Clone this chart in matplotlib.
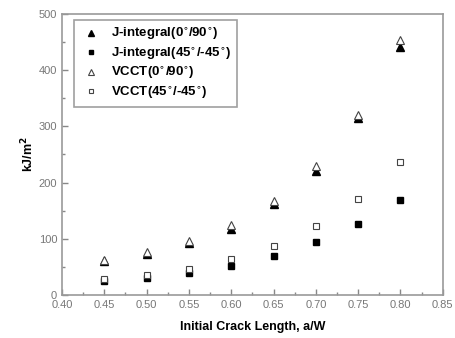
import matplotlib
matplotlib.use("Agg")
import matplotlib.pyplot as plt
from matplotlib.ticker import MultipleLocator

plt.rcParams['font.family'] = ['Liberation Sans', 'DejaVu Sans']

crack = [0.45, 0.50, 0.55, 0.60, 0.65, 0.70, 0.75, 0.80]
j_0_90 = [60, 73, 93, 118, 162, 220, 314, 441]
j_45 = [25, 31, 40, 52, 70, 95, 126, 169]
vcct_0_90 = [63, 77, 97, 124, 167, 229, 320, 453]
vcct_45 = [28, 36, 47, 65, 88, 122, 171, 237]

xticks = [0.40, 0.45, 0.50, 0.55, 0.60, 0.65, 0.70, 0.75, 0.80, 0.85]
yticks = [0, 100, 200, 300, 400, 500]

fig = plt.figure(figsize=(4.56, 3.38), dpi=100)
ax = fig.add_axes([0.136, 0.127, 0.835, 0.832])

ax.plot(crack, j_0_90, linestyle='none', marker='^', color='black', markersize=5.5,
        label='J-integral(0$^{\\circ}$/90$^{\\circ}$)')
ax.plot(crack, j_45, linestyle='none', marker='s', color='black', markersize=4,
        label='J-integral(45$^{\\circ}$/-45$^{\\circ}$)')
ax.plot(crack, vcct_0_90, linestyle='none', marker='^', markerfacecolor='white',
        markeredgecolor='#444444', markeredgewidth=0.8, markersize=5.5,
        label='VCCT(0$^{\\circ}$/90$^{\\circ}$)')
ax.plot(crack, vcct_45, linestyle='none', marker='s', markerfacecolor='white',
        markeredgecolor='#444444', markeredgewidth=0.8, markersize=4,
        label='VCCT(45$^{\\circ}$/-45$^{\\circ}$)')

ax.set_xlim(0.40, 0.85)
ax.set_ylim(0, 500)
ax.set_xticks(xticks)
ax.set_xticklabels([f"{v:.2f}" for v in xticks])
ax.set_yticks(yticks)
ax.xaxis.set_minor_locator(MultipleLocator(0.025))
ax.yaxis.set_minor_locator(MultipleLocator(50))
ax.tick_params(which='both', direction='in', colors='#888888', labelcolor='#777777',
               labelsize=8, top=False, right=False)
ax.tick_params(which='major', length=4, width=1)
ax.tick_params(which='minor', length=2.5, width=1)
for s in ax.spines.values():
    s.set_color('#999999')
    s.set_linewidth(1.2)

ax.set_xlabel('Initial Crack Length, a/W', fontsize=9, fontweight='bold', labelpad=8)
ax.set_ylabel('kJ/m$^{\\mathbf{2}}$', fontsize=9, fontweight='bold', labelpad=2)

leg = ax.legend(loc='upper left', bbox_to_anchor=(0.031, 0.979), borderaxespad=0,
                frameon=True, fancybox=False,
                edgecolor='#888888', prop={'weight': 'bold', 'size': 9.5},
                handletextpad=0.7, borderpad=0.5, labelspacing=0.25, handlelength=1.6,
                markerscale=0.85)
leg.get_frame().set_linewidth(1.2)

fig.savefig('out.png', dpi=100)
